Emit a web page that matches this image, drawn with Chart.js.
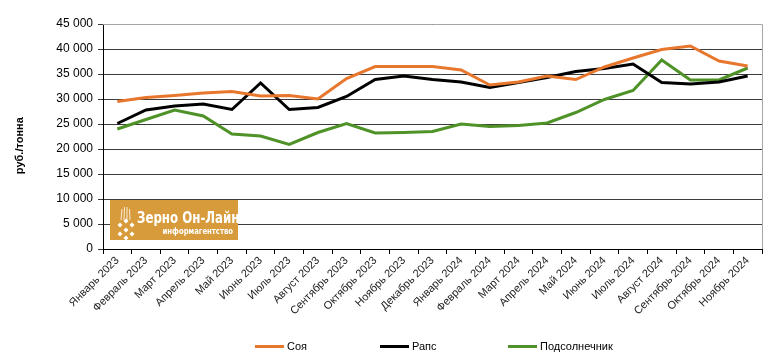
<!DOCTYPE html>
<html>
<head>
<meta charset="utf-8">
<script src="https://cdn.jsdelivr.net/npm/chart.js@4.4.1/dist/chart.umd.min.js"></script>
<style>
  html, body { margin: 0; padding: 0; background: #fff; }
  #wrap { position: relative; width: 776px; height: 363px; }
  #legend { position: absolute; top: 339px; left: 0; width: 776px; height: 16px;
            font: 11px 'Liberation Sans', Arial, sans-serif; color: #000; }
  #legend .item { position: absolute; top: 0; line-height: 14px; white-space: nowrap; }
  #legend .swatch { display: inline-block; width: 29px; height: 3px; vertical-align: middle;
                    margin-right: 3px; position: relative; top: -1px; }
</style>
</head>
<body>
<div id="wrap">
  <canvas id="priceChart"></canvas>
  <div id="legend"></div>
</div>
<script>
// Months Jan 2023 - Nov 2024
const months = [
    'Январь 2023', 'Февраль 2023', 'Март 2023', 'Апрель 2023', 'Май 2023', 'Июнь 2023',
    'Июль 2023', 'Август 2023', 'Сентябрь 2023', 'Октябрь 2023', 'Ноябрь 2023', 'Декабрь 2023',
    'Январь 2024', 'Февраль 2024', 'Март 2024', 'Апрель 2024', 'Май 2024', 'Июнь 2024',
    'Июль 2024', 'Август 2024', 'Сентябрь 2024', 'Октябрь 2024', 'Ноябрь 2024'
];

// руб./тонна
const soy = [29500, 30300, 30700, 31200, 31500, 30600, 30700, 30000, 34100, 36500, 36500, 36500,
             35800, 32800, 33400, 34600, 33900, 36400, 38200, 39900, 40600, 37600, 36600];
const rapeseed = [25100, 27800, 28600, 29000, 27900, 33200, 27900, 28300, 30500, 33900, 34600, 33900,
                  33400, 32300, 33300, 34300, 35500, 36100, 37000, 33300, 33000, 33400, 34600];
const sunflower = [24000, 25900, 27800, 26600, 23000, 22600, 20900, 23300, 25100, 23200, 23300, 23500,
                   25000, 24500, 24700, 25200, 27300, 29900, 31700, 37800, 33800, 33800, 36200];

const yTicks = [0, 5000, 10000, 15000, 20000, 25000, 30000, 35000, 40000, 45000];

const FONT = 'Liberation Sans, Arial, sans-serif';

// Plot border (top/right) and watermark logo
const decorPlugin = {
    id: 'decor',
    beforeDatasetsDraw(chart) {
        const { ctx, chartArea: a } = chart;
        ctx.save();
        ctx.strokeStyle = '#a6a6a6';
        ctx.lineWidth = 1;
        ctx.beginPath();
        ctx.moveTo(a.left, a.top + 0.5);
        ctx.lineTo(a.right + 0.5, a.top + 0.5);
        ctx.lineTo(a.right + 0.5, a.bottom);
        ctx.stroke();

        // logo box
        const x = 110, y = 200, w = 128, h = 40;
        ctx.fillStyle = '#d89b3c';
        ctx.fillRect(x, y, w, h);
        ctx.fillStyle = '#fff';
        const dots = [[10, 25], [16, 21], [16, 30], [22, 25], [10, 34], [22, 34], [16, 38]];
        dots.forEach(([dx, dy]) => {
            ctx.beginPath();
            ctx.moveTo(x + dx, y + dy - 2.5);
            ctx.lineTo(x + dx + 2.5, y + dy);
            ctx.lineTo(x + dx, y + dy + 2.5);
            ctx.lineTo(x + dx - 2.5, y + dy);
            ctx.closePath();
            ctx.fill();
        });
        ctx.strokeStyle = '#fff';
        ctx.lineWidth = 0.8;
        for (let i = 0; i < 4; i++) {
            ctx.beginPath();
            ctx.moveTo(x + 11 + i * 3, y + 20);
            ctx.lineTo(x + 12 + i * 2.5, y + 6 + Math.abs(i - 1.5) * 2);
            ctx.stroke();
        }
        ctx.textBaseline = 'alphabetic';
        ctx.textAlign = 'left';
        ctx.save();
        ctx.translate(x + 27, y + 23);
        ctx.scale(0.82, 1);
        ctx.font = 'bold 16px "DejaVu Sans Condensed", "Liberation Sans Narrow", sans-serif';
        ctx.fillText('Зерно Он-Лайн', 0, 0);
        ctx.restore();
        ctx.save();
        ctx.translate(x + 123, y + 34);
        ctx.scale(0.85, 1);
        ctx.textAlign = 'right';
        ctx.font = 'bold 9px "DejaVu Sans Condensed", "Liberation Sans Narrow", sans-serif';
        ctx.fillText('информагентство', 0, 0);
        ctx.restore();
        ctx.restore();
    }
};

function makeSet(label, data, color) {
    return {
        label: label,
        data: data,
        borderColor: color,
        backgroundColor: color,
        borderWidth: 3,
        pointRadius: 0,
        tension: 0,
        fill: false
    };
}

const chart = new Chart(document.getElementById('priceChart'), {
    type: 'line',
    data: {
        labels: months,
        datasets: [
            makeSet('Соя', soy, '#e8772e'),
            makeSet('Рапс', rapeseed, '#000000'),
            makeSet('Подсолнечник', sunflower, '#4e9228')
        ]
    },
    options: {
        responsive: true,
        maintainAspectRatio: false,
        animation: false,
        layout: { padding: { left: 8, right: 14, top: 24, bottom: 42 } },
        plugins: {
            legend: { display: false },
            tooltip: { enabled: false }
        },
        scales: {
            x: {
                offset: true,
                grid: {
                    offset: true,
                    drawOnChartArea: false,
                    drawTicks: true,
                    tickLength: 5,
                    color: '#000'
                },
                border: { color: '#000', width: 1 },
                ticks: {
                    autoSkip: false,
                    maxRotation: 45,
                    minRotation: 45,
                    padding: 0,
                    color: '#222',
                    font: { family: FONT, size: 11 }
                },
                afterFit(scale) { scale.height = 72; }
            },
            y: {
                min: 0,
                max: 45000,
                afterBuildTicks(scale) {
                    scale.ticks = yTicks.map(v => ({ value: v }));
                },
                grid: {
                    color: '#3c3c3c',
                    tickLength: 5
                },
                border: { color: '#000', width: 1 },
                ticks: {
                    padding: 5,
                    color: '#000',
                    font: { family: FONT, size: 12 },
                    callback: v => v.toLocaleString('ru-RU').replace(/\s/g, ' ')
                },
                title: {
                    display: true,
                    // trailing spaces nudge the title down like the original
                    text: 'руб./тонна\u00a0\u00a0\u00a0\u00a0\u00a0\u00a0',
                    color: '#000',
                    font: { family: FONT, size: 11, weight: 'bold' },
                    padding: { top: 5, bottom: 30 }
                },
                afterFit(scale) { scale.width = 95; }
            }
        }
    },
    plugins: [decorPlugin]
});

// Legend laid out like the original (wide gaps between items)
const legendX = [255, 380, 508];
const legendEl = document.getElementById('legend');
chart.data.datasets.forEach((ds, i) => {
    const item = document.createElement('span');
    item.className = 'item';
    item.style.left = legendX[i] + 'px';
    item.innerHTML = '<span class="swatch" style="background:' + ds.borderColor + '"></span>' + ds.label;
    legendEl.appendChild(item);
});
</script>
</body>
</html>
